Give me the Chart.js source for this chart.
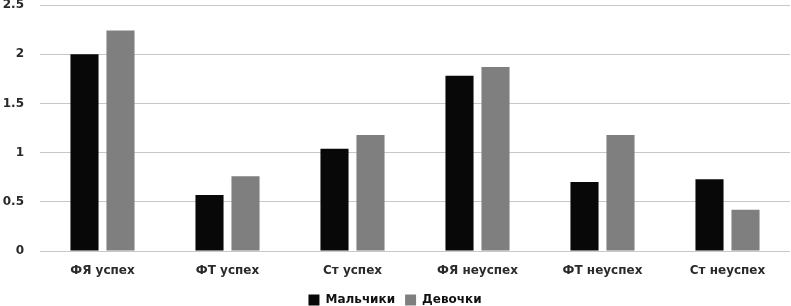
<!DOCTYPE html>
<html>
  <head>
    <meta charset="utf-8">
    <title>Мальчики / Девочки</title>
    <script src="https://cdn.jsdelivr.net/npm/chart.js"></script>
    <style>
      html, body {
        margin: 0;
        padding: 0;
        background: #fff;
      }
    </style>
  </head>
  <body>
    <canvas id="chart" width="791" height="306"></canvas>
    <script>
      const categories = ["ФЯ успех", "ФТ успех", "Ст успех", "ФЯ неуспех", "ФТ неуспех", "Ст неуспех"];
      const boys = [2.0, 0.57, 1.04, 1.78, 0.70, 0.73];
      const girls = [2.24, 0.76, 1.18, 1.87, 1.18, 0.42];
      const yTicks = [0, 0.5, 1, 1.5, 2, 2.5];

      const font = { family: "'DejaVu Sans', sans-serif", size: 12, weight: "bold" };

      const ctx = document.getElementById("chart").getContext("2d");
      new Chart(ctx, {
        type: "bar",
        data: {
          labels: categories,
          datasets: [
            { label: "Мальчики", data: boys, backgroundColor: "#080808" },
            { label: "Девочки", data: girls, backgroundColor: "#7f7f7f" },
          ],
        },
        options: {
          responsive: false,
          animation: false,
          categoryPercentage: 0.576,
          barPercentage: 0.78,
          // legend sits low in the original, so let its box run a bit past the bottom edge
          layout: { padding: { top: 5, right: 1, left: 0, bottom: -10 } },
          scales: {
            x: {
              grid: { display: false },
              border: { display: false },
              ticks: { color: "#2a2a2a", font: font, padding: 5, maxRotation: 0 },
              afterFit: axis => {
                axis.height = 33;
                axis.paddingLeft = 0;
                axis.paddingRight = 0;
              },
            },
            y: {
              min: 0,
              max: 2.5,
              afterBuildTicks: axis => { axis.ticks = yTicks.map(v => ({ value: v })); },
              grid: { color: "#c8c8c8", drawTicks: false },
              border: { display: false },
              ticks: { color: "#2a2a2a", font: font, padding: 16, callback: v => String(v) },
              afterFit: axis => {
                axis.width = 40;
                axis.paddingTop = 0;
                axis.paddingBottom = 0;
              },
            },
          },
          plugins: {
            legend: {
              position: "bottom",
              labels: {
                color: "#111",
                font: font,
                boxWidth: 11,
                boxHeight: 11,
                padding: 10,
              },
            },
            tooltip: { enabled: false },
          },
        },
      });
    </script>
  </body>
</html>
